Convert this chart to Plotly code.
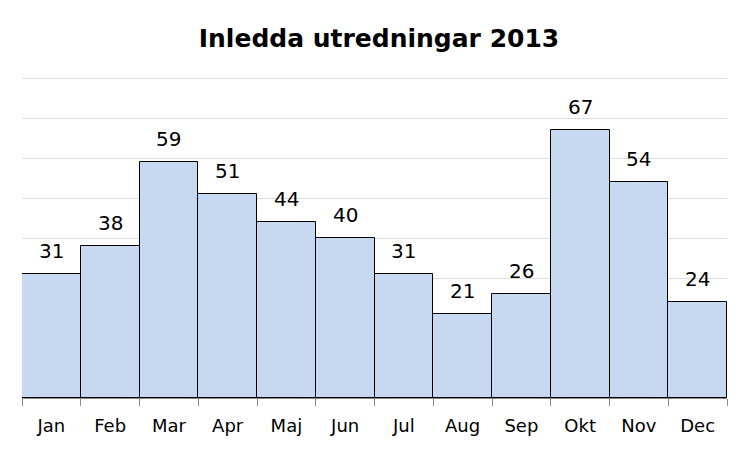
import plotly.graph_objects as go

months = ["Jan", "Feb", "Mar", "Apr", "Maj", "Jun", "Jul", "Aug", "Sep", "Okt", "Nov", "Dec"]
counts = [31, 38, 59, 51, 44, 40, 31, 21, 26, 67, 54, 24]
title_text = "Inledda utredningar 2013"

FONT = "'DejaVu Sans', sans-serif"

fig = go.Figure(
    go.Bar(
        x=months,
        y=counts,
        marker=dict(color="#c6d9f1", line=dict(color="#000000", width=1)),
        cliponaxis=False,
        hoverinfo="x+y",
    )
)

for m, v in zip(months, counts):
    fig.add_annotation(
        x=m, y=v, text=str(v), showarrow=False,
        yanchor="bottom", yshift=9,
        font=dict(family=FONT, size=20, color="#000000"),
    )

fig.update_layout(
    width=742,
    height=441,
    margin=dict(l=14, r=23, t=66, b=51),
    paper_bgcolor="white",
    plot_bgcolor="white",
    bargap=0,
    showlegend=False,
    title=dict(
        text="<b>" + title_text + "</b>",
        x=0.5,
        xanchor="center",
        y=0.932,
        yanchor="middle",
        font=dict(family=FONT, size=25, color="#000000"),
    ),
)

fig.update_xaxes(
    showline=True,
    linecolor="#8c8c8c",
    linewidth=1,
    ticks="outside",
    tickson="boundaries",
    ticklen=7,
    tickcolor="#8c8c8c",
    ticklabelstandoff=11,
    tickfont=dict(family=FONT, size=18, color="#000000"),
    showgrid=False,
)
fig.update_yaxes(
    range=[0, 81],
    tick0=0,
    dtick=10,
    showgrid=True,
    gridcolor="#dcdcdc",
    gridwidth=1,
    zeroline=False,
    showticklabels=False,
    showline=False,
)

fig.write_html("out.html")
